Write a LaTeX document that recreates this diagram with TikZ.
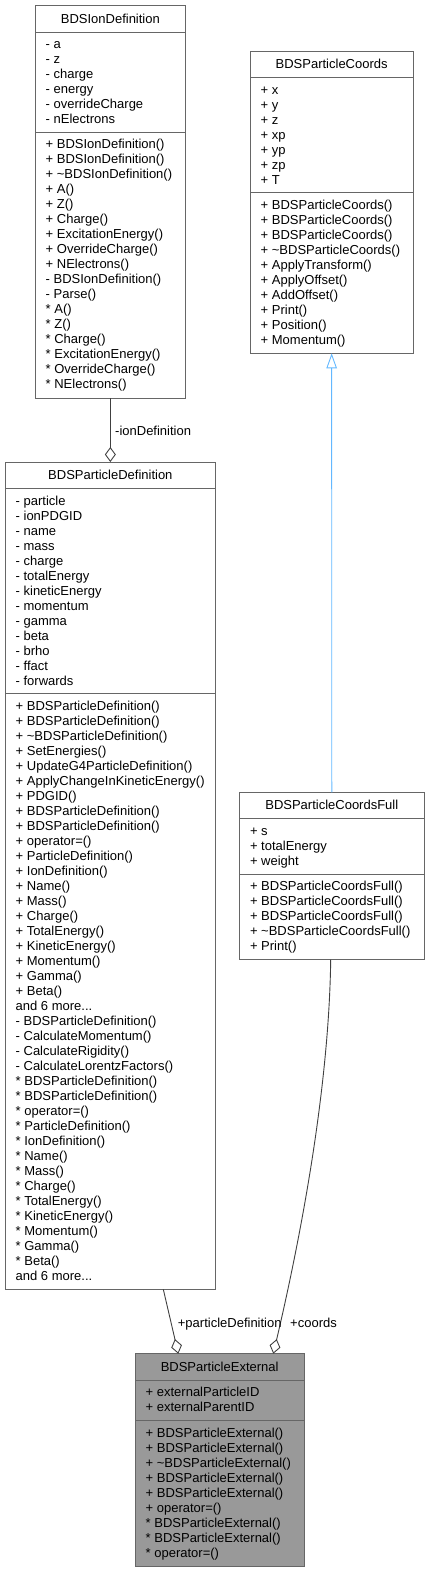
\documentclass[tikz,border=0pt]{standalone}
\usepackage{fontspec}
\setmainfont{Liberation Sans}
\usetikzlibrary{arrows.meta}
\definecolor{boxc}{HTML}{666666}
\definecolor{edgec}{HTML}{404040}
\definecolor{inhc}{HTML}{63B8FF}
\definecolor{extfill}{HTML}{999999}
\tikzset{
 umlbox/.style={draw=boxc, line width=0.9pt, anchor=north west, inner sep=0pt, outer sep=0pt},
 sepline/.style={draw=boxc, line width=0.9pt},
 txt/.style={inner sep=0pt, anchor=base west, font=\fontsize{13}{15}\selectfont},
 ttl/.style={inner sep=0pt, anchor=base, font=\fontsize{13}{15}\selectfont},
 aggr/.style={draw=edgec, line width=0.9pt, -{Diamond[open, length=15pt, width=11pt]}},
 inh/.style={draw=inhc, line width=0.9pt, -{Triangle[open, length=15pt, width=10.5pt]}},
 elabel/.style={inner sep=0pt, anchor=base west, font=\fontsize{13}{15}\selectfont},
}
\newcommand\textlines[4]{\foreach \t [count=\i from 0] in {#4} {\node[txt] (#1-\i) at (#2,{#3+15*\i}) {\t};}}
\newcommand\andmore{and 6 more.{}.{}.}
\begin{document}
\begin{tikzpicture}[x=1pt,y=-1pt]
\useasboundingbox (0,0) rectangle (429,1572);
% BDSIonDefinition
\node[umlbox, minimum width=150.7pt, minimum height=392.3pt] (ion) at (35,5.7) {};
\node[ttl] (ion-t) at (110.35,23.2) {BDSIonDefinition};
\draw[sepline] (35,32) -- (185.7,32);
\draw[sepline] (35,132) -- (185.7,132);
\textlines{iona}{45.5}{48.8}{- a,- z,- charge,- energy,- overrideCharge,- nElectrons}
\textlines{ionm}{45.5}{148.8}{+ BDSIonDefinition(),+ BDSIonDefinition(),+ \textasciitilde BDSIonDefinition(),+ A(),+ Z(),+ Charge(),+ ExcitationEnergy(),+ OverrideCharge(),+ NElectrons(),- BDSIonDefinition(),- Parse(),* A(),* Z(),* Charge(),* ExcitationEnergy(),* OverrideCharge(),* NElectrons()}
% BDSParticleCoords
\node[umlbox, minimum width=163.3pt, minimum height=302.3pt] (coords) at (250,51) {};
\node[ttl] (coords-t) at (331.65,68.5) {BDSParticleCoords};
\draw[sepline] (250,77.3) -- (413.3,77.3);
\draw[sepline] (250,192.8) -- (413.3,192.8);
\textlines{coa}{260.5}{94.1}{+ x,+ y,+ z,+ xp,+ yp,+ zp,+ T}
\textlines{com}{260.5}{209.6}{+ BDSParticleCoords(),+ BDSParticleCoords(),+ BDSParticleCoords(),+ \textasciitilde BDSParticleCoords(),+ ApplyTransform(),+ ApplyOffset(),+ AddOffset(),+ Print(),+ Position(),+ Momentum()}
% BDSParticleDefinition
\node[umlbox, minimum width=210.7pt, minimum height=827.3pt] (def) at (5,462) {};
\node[ttl] (def-t) at (110.35,479.5) {BDSParticleDefinition};
\draw[sepline] (5,488.3) -- (215.7,488.3);
\draw[sepline] (5,693.8) -- (215.7,693.8);
\textlines{defa}{15.5}{505.1}{- particle,- ionPDGID,- name,- mass,- charge,- totalEnergy,- kineticEnergy,- momentum,- gamma,- beta,- brho,- ffact,- forwards}
\textlines{defm}{15.5}{710.6}{+ BDSParticleDefinition(),+ BDSParticleDefinition(),+ \textasciitilde BDSParticleDefinition(),+ SetEnergies(),+ UpdateG4ParticleDefinition(),+ ApplyChangeInKineticEnergy(),+ PDGID(),+ BDSParticleDefinition(),+ BDSParticleDefinition(),+ operator=(),+ ParticleDefinition(),+ IonDefinition(),+ Name(),+ Mass(),+ Charge(),+ TotalEnergy(),+ KineticEnergy(),+ Momentum(),+ Gamma(),+ Beta(),\andmore,- BDSParticleDefinition(),- CalculateMomentum(),- CalculateRigidity(),- CalculateLorentzFactors(),* BDSParticleDefinition(),* BDSParticleDefinition(),* operator=(),* ParticleDefinition(),* IonDefinition(),* Name(),* Mass(),* Charge(),* TotalEnergy(),* KineticEnergy(),* Momentum(),* Gamma(),* Beta(),\andmore}
% BDSParticleCoordsFull
\node[umlbox, minimum width=185pt, minimum height=167.3pt] (full) at (239.3,792.3) {};
\node[ttl] (full-t) at (331.8,809.8) {BDSParticleCoordsFull};
\draw[sepline] (239.3,818.6) -- (424.3,818.6);
\draw[sepline] (239.3,874.1) -- (424.3,874.1);
\textlines{fua}{249.8}{835.4}{+ s,+ totalEnergy,+ weight}
\textlines{fum}{249.8}{890.9}{+ BDSParticleCoordsFull(),+ BDSParticleCoordsFull(),+ BDSParticleCoordsFull(),+ \textasciitilde BDSParticleCoordsFull(),+ Print()}
% BDSParticleExternal
\node[umlbox, fill=extfill, minimum width=169.3pt, minimum height=212.3pt] (ext) at (135,1353.7) {};
\node[ttl] (ext-t) at (219.65,1371.2) {BDSParticleExternal};
\draw[sepline] (135,1380) -- (304.3,1380);
\draw[sepline] (135,1420.5) -- (304.3,1420.5);
\textlines{exa}{145.5}{1396.8}{+ externalParticleID,+ externalParentID}
\textlines{exm}{145.5}{1437.3}{+ BDSParticleExternal(),+ BDSParticleExternal(),+ \textasciitilde BDSParticleExternal(),+ BDSParticleExternal(),+ BDSParticleExternal(),+ operator=(),* BDSParticleExternal(),* BDSParticleExternal(),* operator=()}
% connectors
\draw[aggr] (ion.south) -- (def.north);
\draw[inh] (full.north) -- (coords.south);
\draw[aggr] ([xshift=52.95pt]def.south) -- ([xshift=-41.35pt]ext.north);
\draw[aggr] ([xshift=-1.1pt]full.south) .. controls (329,1090) and (300,1240) .. ([xshift=53.65pt]ext.north);
% labels
\node[elabel] (lion) at (115,435) {-ionDefinition};
\node[elabel] (lpd) at (177.7,1327.4) {+particleDefinition};
\node[elabel] (lco) at (290,1327.4) {+coords};
\end{tikzpicture}
\end{document}
